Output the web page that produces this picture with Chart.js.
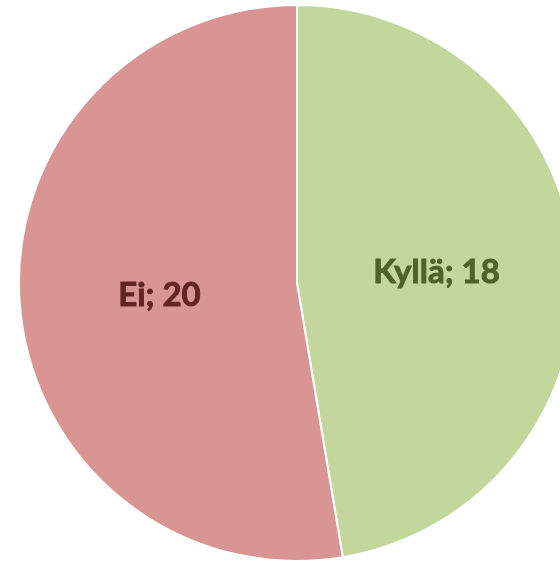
<!DOCTYPE html>
<html>
<head>
<meta charset="utf-8">
<script src="https://cdn.jsdelivr.net/npm/chart.js@4"></script>
<style>
  html, body { margin: 0; padding: 0; background: #fff; overflow: hidden; }
  #wrap { width: 575px; height: 562px; }
</style>
</head>
<body>
<div id="wrap"><canvas id="pieChart" width="575" height="562"></canvas></div>
<script>
// vastaukset
const labels = ['Kyllä', 'Ei'];
const values = [18, 20];
const sliceColors = ['#C3D69B', '#D99594'];
const textColors = ['#4F6228', '#632523'];

// tekstit sektorien keskelle
const sliceLabels = {
    id: 'sliceLabels',
    afterDatasetsDraw(chart) {
        const ctx = chart.ctx;
        const meta = chart.getDatasetMeta(0);
        ctx.save();
        ctx.font = 'bold 33px Lato, "Open Sans", sans-serif';
        ctx.textAlign = 'center';
        ctx.textBaseline = 'middle';
        ctx.lineWidth = 0.9;
        meta.data.forEach((arc, i) => {
            const p = arc.getCenterPoint();
            const txt = labels[i] + '; ' + values[i];
            ctx.fillStyle = textColors[i];
            ctx.strokeStyle = textColors[i];
            ctx.fillText(txt, p.x + 1, p.y + 1);
            ctx.strokeText(txt, p.x + 1, p.y + 1); // hieman paksumpi kuten alkuperäisessä
        });
        ctx.restore();
    }
};

const ctx = document.getElementById('pieChart').getContext('2d');
new Chart(ctx, {
    type: 'pie',
    data: {
        labels: labels,
        datasets: [{
            data: values,
            backgroundColor: sliceColors,
            borderColor: '#ffffff',
            borderWidth: 2,
            hoverOffset: 0
        }]
    },
    options: {
        responsive: false,
        animation: false,
        radius: 278,
        layout: { padding: { left: 19, right: 0, top: 5, bottom: 1 } },
        plugins: {
            legend: { display: false },
            tooltip: { enabled: false }
        }
    },
    plugins: [sliceLabels]
});
</script>
</body>
</html>
